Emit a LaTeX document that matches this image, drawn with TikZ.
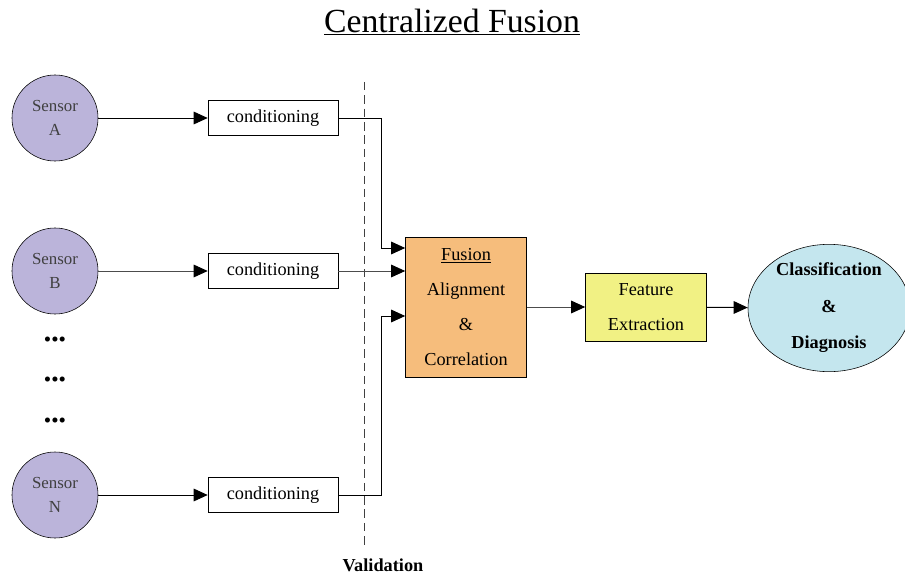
\documentclass[tikz,border=0pt]{standalone}
\usepackage{fontspec}
\setmainfont{Liberation Serif}
\usetikzlibrary{arrows.meta, shapes.geometric}

\definecolor{lila}{RGB}{187,180,218}
\definecolor{portocaliu}{RGB}{246,189,124}
\definecolor{galben}{RGB}{241,241,132}
\definecolor{bleu}{RGB}{196,230,238}

\begin{document}
\begin{tikzpicture}[x=0.025cm, y=-0.025cm]
        \tikzstyle{every node} = [font=\fontsize{13}{16}\selectfont]
        \tikzstyle{senzor}     = [circle, draw, fill=lila, minimum size=2.15cm, inner sep=0pt, align=center, text=black!75, font=\fontsize{12}{17}\selectfont]
        \tikzstyle{cond}       = [rectangle, draw, minimum width=3.25cm, minimum height=0.875cm, inner sep=0pt]
        \tikzstyle{bloc}       = [rectangle, draw, minimum width=3.025cm, align=center, inner sep=0pt, font=\fontsize{13}{25}\selectfont]
        \tikzstyle{puncte}     = [font=\fontsize{15}{15}\selectfont, inner sep=0pt]
        \tikzstyle{sageata}    = [draw, line width=0.7pt, -{Triangle[length=10pt, width=9pt, black]}]

        \useasboundingbox (0,0) rectangle (905,577);

        \node[font=\fontsize{24}{28}\selectfont] (titlu) at (452,22) {\underline{Centralized Fusion}};

        \node[senzor] (sA) at (55,118) {Sensor\\A};
        \node[senzor] (sB) at (55,271) {Sensor\\B};
        \node[senzor] (sN) at (55,495) {Sensor\\N};
        \node[puncte] (p1) at (55,342) {\textbullet\textbullet\textbullet};
        \node[puncte] (p2) at (55,382) {\textbullet\textbullet\textbullet};
        \node[puncte] (p3) at (55,423) {\textbullet\textbullet\textbullet};

        \node[cond] (cA) at (273,118) {conditioning};
        \node[cond] (cB) at (273,271) {conditioning};
        \node[cond] (cN) at (273,495) {conditioning};

        \node[bloc, fill=portocaliu, minimum height=3.5cm] (fuz) at (466,307) {\underline{Fusion}\\Alignment\\\&\\Correlation};
        \node[bloc, fill=galben, minimum height=1.7cm] (extr) at (646,307) {Feature\\Extraction};
        \node[ellipse, draw, fill=bleu, minimum width=4.05cm, minimum height=2.625cm, inner sep=0pt, align=center,
              font=\bfseries\fontsize{13}{26}\selectfont] (clas) at (829,308) {Classification\\\&\\Diagnosis};

        % Linia de validare.
        \coordinate (vsus) at (364,82);
        \coordinate (vjos) at (364,545);
        \draw[black!75, dash pattern=on 6pt off 3.5pt] (vsus) -- (vjos);
        \node[font=\bfseries\fontsize{13}{16}\selectfont] (valid) at (383,565) {Validation};

        % Legaturile.
        \coordinate (cotA) at (381,248);
        \coordinate (cotN) at (381,316);
        \draw[sageata] (sA) -- (cA);
        \draw[sageata, black!70] (sB) -- (cB);
        \draw[sageata] (sN) -- (cN);
        \draw[sageata] (cA.east) -| (cotA) -- (cotA -| fuz.west);
        \draw[sageata, black!70] (cB.east) -- (cB.east -| fuz.west);
        \draw[sageata] (cN.east) -| (cotN) -- (cotN -| fuz.west);
        \draw[sageata, black!70] (fuz) -- (extr);
        \draw[sageata] (extr) -- (clas);
    \end{tikzpicture}
\end{document}
